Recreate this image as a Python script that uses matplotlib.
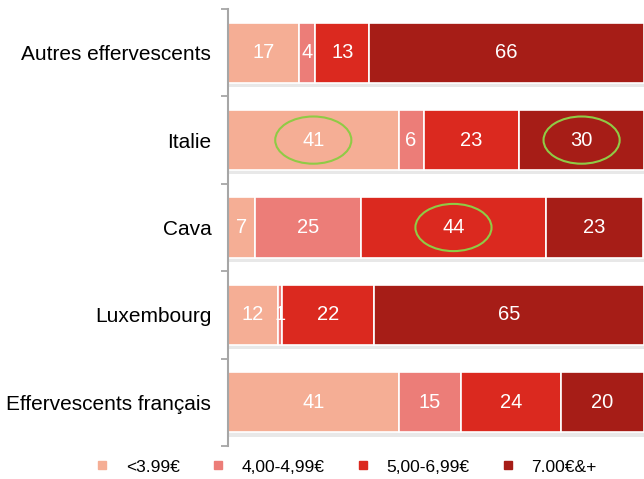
import matplotlib
matplotlib.use("Agg")
import matplotlib.pyplot as plt
from matplotlib.lines import Line2D
from matplotlib.patches import Ellipse
import matplotlib.patheffects as pe
import numpy as np

plt.rcParams['font.family'] = ['Liberation Sans', 'DejaVu Sans']

categories = ["Autres effervescents", "Italie", "Cava", "Luxembourg", "Effervescents français"]
series_names = ["<3.99€", "4,00-4,99€", "5,00-6,99€", "7.00€&+"]
values = {
    "<3.99€":     [17, 41, 6.6, 12, 41],
    "4,00-4,99€": [4, 6, 25.4, 1, 15],
    "5,00-6,99€": [13, 23, 44.4, 22, 24],
    "7.00€&+":    [66, 30, 23.4, 65, 20],
}
colors = ["#F5AE95", "#EC7D78", "#DB291F", "#A61D17"]
highlighted = [("Italie", "<3.99€"), ("Italie", "7.00€&+"), ("Cava", "5,00-6,99€")]

fig = plt.figure(figsize=(6.44, 4.79), dpi=100)
ax = fig.add_axes([228/644, 1-446/479, 416/644, 437/479])

y = np.arange(len(categories))[::-1]
left = np.zeros(len(categories))
centers = {}
shadow = [pe.SimplePatchShadow(offset=(1, -3), shadow_rgbFace='#999999', alpha=0.22), pe.Normal()]
for name, col in zip(series_names, colors):
    vals = np.array(values[name], dtype=float)
    bars = ax.barh(y, vals, left=left, height=0.69, color=col, edgecolor='white', linewidth=1.2)
    for b in bars:
        b.set_path_effects(shadow)
    for i, (v, l) in enumerate(zip(vals, left)):
        cx = l + v / 2
        centers[(categories[i], name)] = (cx, y[i])
        ax.text(cx, y[i], f"{v:.0f}", ha='center', va='center', color='white', fontsize=14.5)
    left += vals

for key in highlighted:
    cx, cy = centers[key]
    ax.add_patch(Ellipse((cx, cy), width=18.3, height=0.54, fill=False, edgecolor='#8FCB45', linewidth=1.5))

ax.set_xlim(0, 100)
ax.set_ylim(-0.5, len(categories) - 0.5)
ax.set_yticks(y)
ax.set_yticklabels(categories, fontsize=15)
ax.tick_params(axis='y', which='major', length=0, pad=12)
ax.set_yticks(np.arange(-0.5, len(categories), 1.0), minor=True)
ax.tick_params(axis='y', which='minor', length=5, color='#A6A6A6', width=1.3)
ax.xaxis.set_visible(False)
for s in ['top', 'right', 'bottom']:
    ax.spines[s].set_visible(False)
ax.spines['left'].set_color('#A6A6A6')
ax.spines['left'].set_linewidth(1.5)

handles = [Line2D([0], [0], marker='s', linestyle='none', markersize=6, markerfacecolor=c, markeredgecolor=c) for c in colors]
fig.legend(handles, series_names, loc='center', bbox_to_anchor=(0.537, 1-467/479), ncol=4, frameon=False,
           fontsize=12.5, handlelength=0.8, handletextpad=0.96, columnspacing=1.8)

fig.savefig("out.png", dpi=100)
